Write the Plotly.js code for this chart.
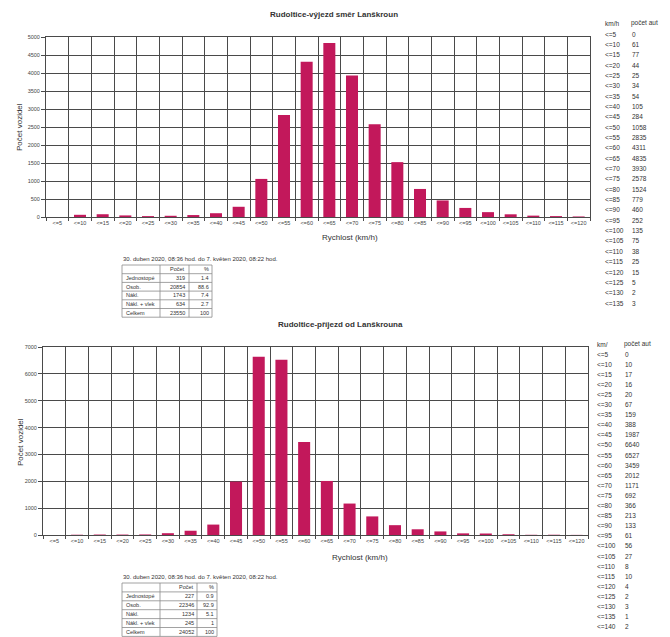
<!DOCTYPE html>
<html>
<head>
<meta charset="utf-8">
<script src="https://cdn.plot.ly/plotly-3.0.1.min.js"></script>
<style>
html,body{margin:0;padding:0;background:#fff;}
#chart{width:670px;height:637px;}
</style>
</head>
<body>
<div id="chart"></div>
<script>
// ---------- DATA ----------
const title1 = "Rudoltice-výjezd směr Lanškroun";
const title2 = "Rudoltice-příjezd od Lanškrouna";
const speeds1 = ["<=5","<=10","<=15","<=20","<=25","<=30","<=35","<=40","<=45","<=50","<=55","<=60","<=65","<=70","<=75","<=80","<=85","<=90","<=95","<=100","<=105","<=110","<=115","<=120","<=125","<=130","<=135"];
const counts1 = [0,61,77,44,25,34,54,105,284,1058,2835,4311,4835,3930,2578,1524,779,460,252,135,75,38,25,15,5,2,3];
const speeds2 = ["<=5","<=10","<=15","<=20","<=25","<=30","<=35","<=40","<=45","<=50","<=55","<=60","<=65","<=70","<=75","<=80","<=85","<=90","<=95","<=100","<=105","<=110","<=115","<=120","<=125","<=130","<=135","<=140"];
const counts2 = [0,10,17,16,20,67,159,388,1987,6640,6527,3459,2012,1171,692,366,213,133,61,56,27,8,10,4,2,3,1,2];
const shownCategories = 24; // x axis shows <=5 .. <=120
const listHead1 = ["km/h", "počet aut"];
const listHead2 = ["km/", "počet aut"];
const period = "30. duben 2020, 08:36 hod. do 7. květen 2020, 08:22 hod.";
const tableHead = ["", "Počet", "%"];
const vehTypes = ["Jednostopé","Osob.","Nákl.","Nákl. + vlek","Celkem"];
const vehCount1 = [319,20854,1743,634,23550];
const vehPct1 = ["1.4","88.6","7.4","2.7","100"];
const vehCount2 = [227,22346,1234,245,24052];
const vehPct2 = ["0.9","92.9","5.1","1","100"];
const yTitle = "Počet vozidel";
const xTitle = "Rychlost (km/h)";

// ---------- STYLE ----------
const W = 670, H = 637;
const px = v => v / W;
const py = v => 1 - v / H;
const barColor = "#C2185B";
const gridCol = "#4a4a4a";
const fontFam = "Liberation Sans, Arial, sans-serif";
const txtCol = "#333";
const esc = s => s.replace(/</g, "&lt;");

function xAxis(dom, anchor, labels) {
  return {
    domain: dom, anchor: anchor, type: "linear",
    range: [-0.5, shownCategories - 0.5],
    tickvals: labels.slice(0, shownCategories).map((_, i) => i),
    ticktext: labels.slice(0, shownCategories).map(esc),
    tickfont: {size: 5.5, color: "#444", family: fontFam},
    ticks: "", showgrid: false, zeroline: false,
    showline: true, linecolor: gridCol, linewidth: 1, mirror: true,
    minor: {tick0: -0.5, dtick: 1, showgrid: true, gridcolor: gridCol, gridwidth: 1,
            ticks: "outside", ticklen: 3, tickcolor: gridCol},
    automargin: false, fixedrange: true
  };
}
function yAxis(dom, anchor, max, dt) {
  return {
    domain: dom, anchor: anchor, range: [0, max], dtick: dt,
    tickfont: {size: 5.5, color: "#444", family: fontFam},
    ticks: "outside", ticklen: 4, tickcolor: gridCol,
    showgrid: true, gridcolor: gridCol, gridwidth: 1, zeroline: false,
    showline: true, linecolor: gridCol, linewidth: 1, mirror: true,
    automargin: false, fixedrange: true
  };
}

const traces = [
  {type: "bar", x: counts1.map((_, i) => i), y: counts1, xaxis: "x", yaxis: "y",
   marker: {color: barColor}, hoverinfo: "skip"},
  {type: "bar", x: counts2.map((_, i) => i), y: counts2, xaxis: "x2", yaxis: "y2",
   marker: {color: barColor}, hoverinfo: "skip"}
];

function ann(text, x, y, opts) {
  return Object.assign({text: text, x: px(x), y: py(y), xref: "paper", yref: "paper",
    showarrow: false, xanchor: "center", yanchor: "middle",
    font: {size: 8, color: txtCol, family: fontFam}}, opts || {});
}
const annotations = [
  ann("<b>" + title1 + "</b>", 334, 14),
  ann("<b>" + title2 + "</b>", 340, 324),
  ann(yTitle, 20, 127, {textangle: -90}),
  ann(yTitle, 20, 442, {textangle: -90}),
  ann(xTitle, 350, 237),
  ann(xTitle, 360, 557),
  ann(period, 121, 259, {xanchor: "left", font: {size: 6, color: txtCol, family: fontFam}}),
  ann(period, 121, 577, {xanchor: "left", font: {size: 6, color: txtCol, family: fontFam}})
];
const shapes = [];

// side value lists (one annotation per row)
function sideList(head, labels, values, xl, xv, yHead, y0, step) {
  const f = {size: 6.5, color: txtCol, family: fontFam};
  annotations.push(ann(head[0], xl, yHead, {xanchor: "left", font: f}));
  annotations.push(ann(head[1], xv - 1, yHead, {xanchor: "left", font: f}));
  labels.forEach((lab, i) => {
    annotations.push(ann(esc(lab), xl, y0 + i * step, {xanchor: "left", font: f}));
    annotations.push(ann(String(values[i]), xv, y0 + i * step, {xanchor: "left", font: f}));
  });
}
sideList(listHead1, speeds1, counts1, 603, 630, 23, 34, 10.35);
sideList(listHead2, speeds2, counts2, 595, 623, 344, 354, 10.1);

// small vehicle tables
function vehTable(counts, pcts, cols, yTop, rowH) {
  const f = {size: 5.5, color: txtCol, family: fontFam};
  const rows = [tableHead].concat(vehTypes.map((t, i) => [t, String(counts[i]), pcts[i]]));
  const nR = rows.length;
  const line = {color: "#8a8a8a", width: 0.8};
  for (let r = 0; r <= nR; r++) {
    shapes.push({type: "line", xref: "paper", yref: "paper",
      x0: px(cols[0]), x1: px(cols[cols.length - 1]),
      y0: py(yTop + r * rowH), y1: py(yTop + r * rowH), line: line});
  }
  cols.forEach(c => shapes.push({type: "line", xref: "paper", yref: "paper",
      x0: px(c), x1: px(c), y0: py(yTop), y1: py(yTop + nR * rowH), line: line}));
  rows.forEach((row, r) => {
    const yc = yTop + (r + 0.5) * rowH;
    row.forEach((cell, c) => {
      if (!cell) return;
      if (c === 0) annotations.push(ann(cell, cols[0] + 1.5, yc, {xanchor: "left", font: f}));
      else annotations.push(ann(cell, cols[c + 1] - 1.5, yc, {xanchor: "right", font: f}));
    });
  });
}
vehTable(vehCount1, vehPct1, [122, 160, 189, 212], 265, 8.7);
vehTable(vehCount2, vehPct2, [122, 160, 197, 217], 583, 8.9);

const layout = {
  width: W, height: H,
  margin: {l: 0, r: 0, t: 0, b: 0, pad: 0},
  paper_bgcolor: "#fff", plot_bgcolor: "#fff",
  showlegend: false, bargap: 0.47,
  font: {family: fontFam, color: txtCol},
  xaxis: xAxis([px(46), px(590)], "y", speeds1),
  yaxis: yAxis([py(217), py(37)], "x", 5000, 500),
  xaxis2: xAxis([px(43), px(588)], "y2", speeds2),
  yaxis2: yAxis([py(535), py(347)], "x2", 7000, 1000),
  annotations: annotations,
  shapes: shapes
};

Plotly.newPlot("chart", traces, layout, {staticPlot: true, displayModeBar: false});
</script>
</body>
</html>
